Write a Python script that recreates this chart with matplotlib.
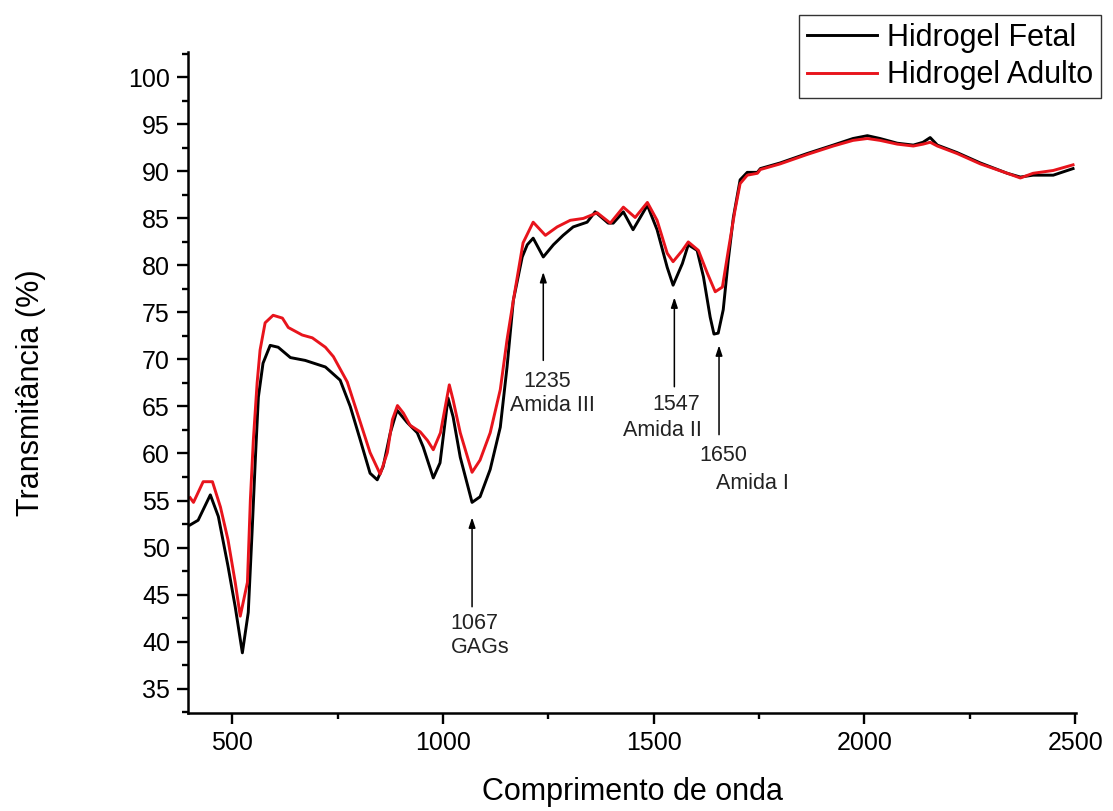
import matplotlib
matplotlib.use('Agg')
import matplotlib.pyplot as plt
from matplotlib.ticker import MultipleLocator

# FTIR spectra
onda_fetal = [400, 419, 448, 467, 490, 507, 524, 538, 547, 555, 562, 573, 590, 609, 638, 673, 721,
              756, 780, 804, 827, 844, 858, 875, 891, 915, 939, 953, 977, 993, 1012, 1024, 1041,
              1069, 1088, 1112, 1136, 1152, 1167, 1188, 1200, 1214, 1238, 1262, 1285, 1309, 1342,
              1361, 1392, 1404, 1428, 1451, 1485, 1508, 1532, 1546, 1568, 1582, 1603, 1618, 1634,
              1643, 1653, 1665, 1677, 1689, 1705, 1722, 1746, 1753, 1800, 1864, 1926, 1973, 2007,
              2037, 2078, 2116, 2139, 2156, 2173, 2220, 2275, 2339, 2370, 2400, 2448, 2495]
transm_fetal = [52.4, 52.9, 55.6, 53.3, 48.0, 43.7, 38.8, 43.1, 51.6, 59.6, 66.0, 69.6, 71.5, 71.3,
                70.2, 69.9, 69.2, 67.8, 65.0, 61.4, 57.9, 57.2, 58.6, 62.2, 64.6, 63.3, 62.2, 60.7,
                57.4, 59.0, 65.9, 63.9, 59.6, 54.8, 55.4, 58.3, 62.8, 69.2, 76.3, 80.9, 82.2, 82.9,
                80.9, 82.2, 83.2, 84.1, 84.6, 85.7, 84.5, 84.5, 85.7, 83.8, 86.4, 83.8, 79.8, 77.9,
                80.2, 82.2, 81.6, 78.8, 74.5, 72.7, 72.8, 75.3, 80.6, 85.1, 89.1, 89.9, 89.9, 90.3,
                90.9, 91.9, 92.8, 93.5, 93.8, 93.5, 93.0, 92.8, 93.1, 93.6, 92.8, 92.0, 90.9, 89.8,
                89.4, 89.6, 89.6, 90.3]

onda_adulto = [400, 408, 431, 453, 472, 490, 507, 519, 536, 543, 550, 559, 566, 578, 597, 619, 633,
               666, 690, 721, 740, 773, 804, 827, 851, 868, 880, 892, 906, 922, 946, 963, 977, 994,
               1015, 1024, 1041, 1069, 1088, 1112, 1136, 1152, 1167, 1190, 1214, 1243, 1271, 1302,
               1333, 1366, 1397, 1428, 1456, 1485, 1508, 1532, 1546, 1568, 1582, 1606, 1627, 1646,
               1663, 1677, 1693, 1705, 1722, 1746, 1753, 1800, 1864, 1926, 1973, 2007, 2037, 2078,
               2116, 2139, 2156, 2173, 2220, 2275, 2339, 2370, 2400, 2448, 2495]
transm_adulto = [55.3, 54.8, 57.0, 57.0, 54.3, 50.8, 46.3, 42.7, 46.3, 55.1, 61.4, 67.5, 71.0, 73.9,
                 74.7, 74.4, 73.4, 72.6, 72.3, 71.3, 70.3, 67.6, 63.3, 60.1, 57.8, 60.1, 63.6, 65.1,
                 64.3, 63.0, 62.3, 61.4, 60.4, 62.2, 67.3, 65.7, 62.2, 58.0, 59.3, 62.2, 66.8, 72.1,
                 76.3, 82.4, 84.6, 83.2, 84.1, 84.8, 85.0, 85.6, 84.5, 86.2, 85.1, 86.7, 84.8, 81.3,
                 80.4, 81.6, 82.5, 81.6, 79.2, 77.2, 77.7, 81.6, 85.9, 88.7, 89.6, 89.8, 90.2, 90.8,
                 91.8, 92.7, 93.3, 93.5, 93.3, 92.9, 92.7, 92.9, 93.1, 92.7, 91.9, 90.8, 89.8, 89.3,
                 89.8, 90.1, 90.7]

# band annotations: (arrow x, arrow tip y, arrow tail y)
bandas = [(1069, 53.2, 43.7), (1238, 79.3, 69.9), (1549, 76.6, 67.1), (1655, 71.5, 62.0)]
# label lines: (text, x, y, alignment)
rotulos = [('1067', 1017, 41.9, 'left'), ('GAGs', 1019, 39.4, 'left'),
           ('1235', 1247, 67.7, 'center'), ('Amida III', 1259, 65.1, 'center'),
           ('1547', 1553, 65.2, 'center'), ('Amida II', 1520, 62.4, 'center'),
           ('1650', 1664, 59.8, 'center'), ('Amida I', 1734, 56.8, 'center')]

plt.rcParams['font.family'] = ['Liberation Sans', 'DejaVu Sans']

fig = plt.figure(figsize=(11.13, 8.11), dpi=100)
ax = fig.add_axes([188 / 1113, 1 - 713 / 811, (1076 - 188) / 1113, (713 - 52) / 811])

ax.plot(onda_fetal, transm_fetal, color='black', lw=2.1, label='Hidrogel Fetal')
ax.plot(onda_adulto, transm_adulto, color='#e8141c', lw=2.1, label='Hidrogel Adulto')

for x, tip, tail in bandas:
    ax.annotate('', xy=(x, tip), xytext=(x, tail),
                arrowprops=dict(arrowstyle='-|>,head_length=0.6,head_width=0.2',
                                color='black', lw=1.1, shrinkA=0, shrinkB=0))
for txt, x, y, ha in rotulos:
    ax.text(x, y, txt, ha=ha, va='center', fontsize=15.5, color='#222222')

ax.set_xlim(395, 2502)
ax.set_ylim(32.4, 102.7)
ax.xaxis.set_major_locator(MultipleLocator(500))
ax.xaxis.set_minor_locator(MultipleLocator(250))
ax.yaxis.set_major_locator(MultipleLocator(5))
ax.yaxis.set_minor_locator(MultipleLocator(2.5))
ax.tick_params(which='major', length=8, width=1.7, labelsize=18, pad=5)
ax.tick_params(which='minor', length=4, width=1.7)
for s in ['top', 'right']:
    ax.spines[s].set_visible(False)
for s in ['left', 'bottom']:
    ax.spines[s].set_linewidth(1.8)

ax.set_xlabel('Comprimento de onda', fontsize=22)
ax.set_ylabel('Transmitância (%)', fontsize=22)
ax.xaxis.set_label_coords(0.5, -0.097)
ax.yaxis.set_label_coords(-0.160, 0.484)

leg = ax.legend(loc='upper left', bbox_to_anchor=(0.718, 0.9815), bbox_transform=fig.transFigure,
                fontsize=22, frameon=True, fancybox=False, framealpha=1, edgecolor='#333333',
                handlelength=2.3, handletextpad=0.33, labelspacing=0.25, borderpad=0.25,
                borderaxespad=0)
leg.get_frame().set_linewidth(1.0)

plt.savefig('out.png', dpi=100)
